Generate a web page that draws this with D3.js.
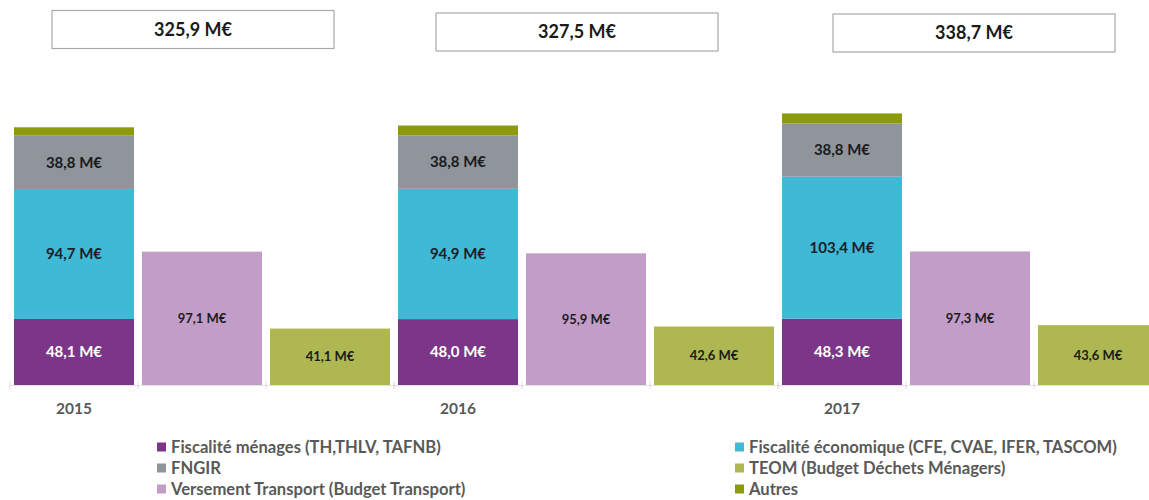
<!DOCTYPE html>
<html>
<head>
<meta charset="utf-8">
<script src="https://cdn.jsdelivr.net/npm/d3@7"></script>
<style>
  body { margin: 0; background: #fff; }
  svg { display: block; }
</style>
</head>
<body>
<div id="chart"></div>
<script>
// ===== Recettes fiscales 2015-2017 (bars, stacked + single) =====
var years = ["2015", "2016", "2017"];
var totals = ["325,9 M€", "327,5 M€", "338,7 M€"];

// stacked bar, bottom to top
var menages = [48.1, 48.0, 48.3];
var economique = [94.7, 94.9, 103.4];
var fngir = [38.8, 38.8, 38.8];
var autres = [6.1, 7.3, 7.3];
// single bars
var transport = [97.1, 95.9, 97.3];
var teom = [41.1, 42.6, 43.6];

var legendNames = [
  "Fiscalité ménages (TH,THLV, TAFNB)",
  "Fiscalité économique (CFE, CVAE, IFER, TASCOM)",
  "FNGIR",
  "TEOM (Budget Déchets Ménagers)",
  "Versement Transport (Budget Transport)",
  "Autres"
];

var colors = {
  menages: "#7b3589",
  economique: "#3fb9d5",
  fngir: "#8f959b",
  transport: "#c19dc8",
  teom: "#aeb752",
  autres: "#8c9a10"
};
var legendColors = [colors.menages, colors.economique, colors.fngir, colors.teom, colors.transport, colors.autres];

function draw()
{
  var w = 1149;
  var h = 500;
  var base = 385;

  var svg = d3.select("#chart")
              .append("svg")
              .attr("width", w)
              .attr("height", h);

  // groups run past the right edge, like the original
  var x0 = d3.scaleBand()
             .domain(years)
             .range([10, 1162]);

  var x1 = d3.scaleBand()
             .domain(["stack", "transport", "teom"])
             .range([0, x0.bandwidth()])
             .paddingInner(0.0625)
             .paddingOuter(0.03125);

  var y = d3.scaleLinear()
            .domain([0, 200])
            .range([base, base - 200 * 1.373]);

  // faint axis with tick marks at slot boundaries
  svg.append("line")
     .attr("x1", 10).attr("x2", w)
     .attr("y1", base + 0.5).attr("y2", base + 0.5)
     .attr("stroke", "#e3e3e3");

  years.forEach(function(yr) {
    for (var k = 0; k <= 3; k++) {
      var tx = x0(yr) + k * x1.step();
      svg.append("line")
         .attr("x1", tx).attr("x2", tx)
         .attr("y1", base - 3).attr("y2", base + 4)
         .attr("stroke", "#dcdcdc");
    }
  });

  // build rows for each year
  var rows = years.map(function(yr, i) {
    return {
      year: yr,
      stack: [
        {key: "menages", v: menages[i], fill: colors.menages, txt: "#ffffff", label: true},
        {key: "economique", v: economique[i], fill: colors.economique, txt: "#1b1f2a", label: true},
        {key: "fngir", v: fngir[i], fill: colors.fngir, txt: "#1b1b1b", label: true},
        {key: "autres", v: autres[i], fill: colors.autres, txt: "#1b1b1b", label: false}
      ],
      singles: [
        {key: "transport", v: transport[i], fill: colors.transport},
        {key: "teom", v: teom[i], fill: colors.teom}
      ],
      total: totals[i]
    };
  });

  var fmt = function(v) { return d3.format(".1f")(v).replace(".", ",") + " M€"; };

  var groups = svg.selectAll("g.year")
                  .data(rows)
                  .enter()
                  .append("g")
                  .attr("class", "year")
                  .attr("transform", function(d) { return "translate(" + x0(d.year) + ",0)"; });

  groups.each(function(d) {
    var g = d3.select(this);
    var acc = 0;
    d.stack.forEach(function(s) {
      s.y0 = acc;
      acc += s.v;
      s.y1 = acc;
    });

    // stacked bar
    g.selectAll("rect.seg")
     .data(d.stack)
     .enter()
     .append("rect")
     .attr("class", "seg")
     .attr("x", x1("stack"))
     .attr("width", x1.bandwidth())
     .attr("y", function(s) { return y(s.y1); })
     .attr("height", function(s) { return y(s.y0) - y(s.y1); })
     .attr("fill", function(s) { return s.fill; });

    g.selectAll("text.seg")
     .data(d.stack.filter(function(s) { return s.label; }))
     .enter()
     .append("text")
     .attr("class", "seg")
     .attr("x", x1("stack") + x1.bandwidth() / 2)
     .attr("y", function(s) { return (y(s.y0) + y(s.y1)) / 2; })
     .attr("dy", "0.35em")
     .attr("text-anchor", "middle")
     .attr("font-family", "Lato, sans-serif")
     .attr("font-weight", "bold")
     .attr("font-size", "15px")
     .attr("fill", function(s) { return s.txt; })
     .text(function(s) { return fmt(s.v); });

    // transport + teom bars
    g.selectAll("rect.single")
     .data(d.singles)
     .enter()
     .append("rect")
     .attr("class", "single")
     .attr("x", function(s) { return x1(s.key); })
     .attr("width", x1.bandwidth())
     .attr("y", function(s) { return y(s.v); })
     .attr("height", function(s) { return y(0) - y(s.v); })
     .attr("fill", function(s) { return s.fill; });

    g.selectAll("text.single")
     .data(d.singles)
     .enter()
     .append("text")
     .attr("class", "single")
     .attr("x", function(s) { return x1(s.key) + x1.bandwidth() / 2; })
     .attr("y", function(s) { return (y(0) + y(s.v)) / 2; })
     .attr("dy", "0.35em")
     .attr("text-anchor", "middle")
     .attr("font-family", "Lato, sans-serif")
     .attr("font-weight", "bold")
     .attr("font-size", "13px")
     .attr("fill", "#1b1b1b")
     .text(function(s) { return fmt(s.v); });

    // year label under the stacked bar
    g.append("text")
     .attr("x", x1("stack") + x1.bandwidth() / 2)
     .attr("y", 409)
     .attr("dy", "0.35em")
     .attr("text-anchor", "middle")
     .attr("font-family", "Lato, sans-serif")
     .attr("font-weight", "bold")
     .attr("font-size", "15.5px")
     .attr("fill", "#595959")
     .text(d.year);
  });

  // total boxes on top
  var boxW = 282, boxH = 38;
  var boxShift = [-9, -9, 4];
  var boxTop = [10, 12.5, 13.5];
  rows.forEach(function(d, i) {
    var cx = x0(d.year) + x0.bandwidth() / 2 + boxShift[i];
    svg.append("rect")
       .attr("x", cx - boxW / 2)
       .attr("y", boxTop[i] + 0.5)
       .attr("width", boxW)
       .attr("height", boxH)
       .attr("fill", "#fff")
       .attr("stroke", "#a9a9a9")
       .attr("stroke-width", 1.2);
    svg.append("text")
       .attr("x", cx)
       .attr("y", boxTop[i] + boxH / 2 + 0.5)
       .attr("dy", "0.35em")
       .attr("text-anchor", "middle")
       .attr("font-family", "Lato, sans-serif")
       .attr("font-weight", "bold")
       .attr("font-size", "18px")
       .attr("fill", "#1a1a1a")
       .text(d.total);
  });

  // legend, two columns (kept just inside the bottom edge)
  var legX = [157, 735];
  var legY = 447;
  var legStep = 21;
  var leg = svg.selectAll("g.legend")
               .data(legendNames)
               .enter()
               .append("g")
               .attr("class", "legend")
               .attr("transform", function(d, i) {
                 return "translate(" + legX[i % 2] + "," + (legY + Math.floor(i / 2) * legStep) + ")";
               });

  leg.append("rect")
     .attr("x", 0)
     .attr("y", -4.5)
     .attr("width", 9)
     .attr("height", 9)
     .attr("fill", function(d, i) { return legendColors[i]; });

  leg.append("text")
     .attr("x", 14)
     .attr("y", 0)
     .attr("dy", "0.35em")
     .attr("font-family", "Lato, sans-serif")
     .attr("font-weight", "bold")
     .attr("font-size", "16.6px")
     .attr("fill", "#595959")
     .text(function(d) { return d; });
}

window.onload = draw;
</script>
</body>
</html>
